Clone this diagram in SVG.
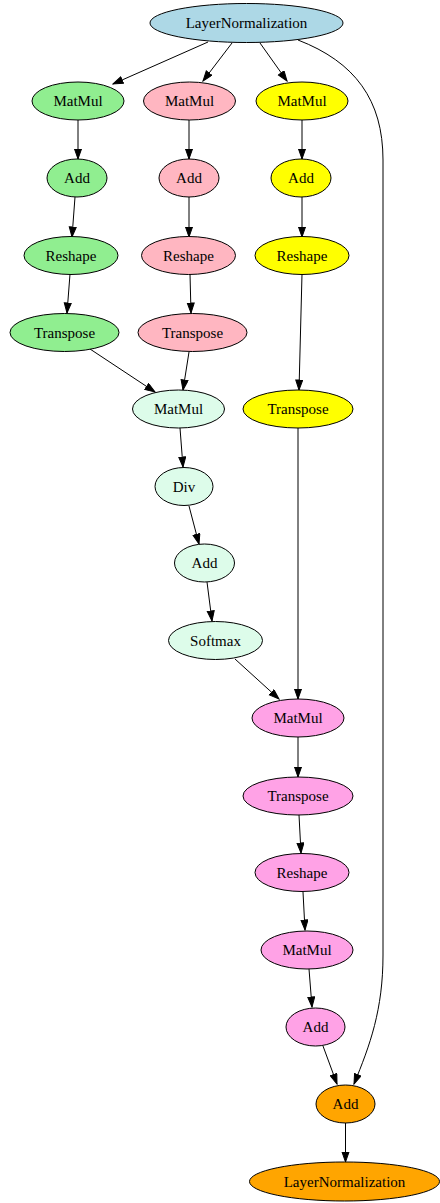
<svg xmlns="http://www.w3.org/2000/svg" width="440" height="1203" viewBox="0 0 440 1203">
<defs>
<marker id="ah" markerUnits="userSpaceOnUse" markerWidth="12" markerHeight="9" refX="10.5" refY="4" orient="auto" viewBox="0 0 12 9">
<path d="M0.5,0.5 L10.5,4 L0.5,7.5 z" fill="#000" stroke="#000" stroke-width="1"/>
</marker>
</defs>
<style>
ellipse{stroke:#000;stroke-width:1}
text{font-family:"Liberation Serif","Times New Roman",serif;font-size:15px;text-anchor:middle;fill:#000}
.e{fill:none;stroke:#000;stroke-width:1;marker-end:url(#ah)}
.ln{fill:#add8e6}.g{fill:#90ee90}.p{fill:#ffb6c1}.y{fill:#ffff00}.c{fill:#ddfcea}.m{fill:#ffa2e6}.o{fill:#ffa500}
</style>
<rect width="440" height="1203" fill="#fff"/>
<g id="edges">
<path class="e" d="M208,42 L113,84"/>
<path class="e" d="M232,43 L203,81"/>
<path class="e" d="M260,43 L287,81"/>
<path class="e" d="M298,40 C355,62 383,100 383,160 L383,955 C383,1010 370,1045 354,1084"/>
<path class="e" d="M78,120 L78,159"/>
<path class="e" d="M75,197 L72,237"/>
<path class="e" d="M70,274 L67,313"/>
<path class="e" d="M90,349 L155,392"/>
<path class="e" d="M189,120 L189,159"/>
<path class="e" d="M189,197 L189,237"/>
<path class="e" d="M190,274 L191,313"/>
<path class="e" d="M189,352 L183,390"/>
<path class="e" d="M302,120 L302,159"/>
<path class="e" d="M302,197 L302,237"/>
<path class="e" d="M302,274 L299,390"/>
<path class="e" d="M298,428 L298,699"/>
<path class="e" d="M180,428 L183,467"/>
<path class="e" d="M189,506 L199,544"/>
<path class="e" d="M207,582 L212,621"/>
<path class="e" d="M235,659 L279,699"/>
<path class="e" d="M298,737 L298,777"/>
<path class="e" d="M299,815 L301,853"/>
<path class="e" d="M303,892 L305,930"/>
<path class="e" d="M309,969 L312,1007"/>
<path class="e" d="M323,1046 L337,1084"/>
<path class="e" d="M345.5,1123 L345.5,1162"/>
</g>
<g id="n_ln1"><ellipse class="ln" cx="246.5" cy="23" rx="96.5" ry="19.5"/><text x="246.5" y="28">LayerNormalization</text></g>
<g id="n_mm_g"><ellipse class="g" cx="78" cy="101" rx="46" ry="19"/><text x="78" y="106">MatMul</text></g>
<g id="n_mm_p"><ellipse class="p" cx="189.5" cy="101" rx="46" ry="19"/><text x="189.5" y="106">MatMul</text></g>
<g id="n_mm_y"><ellipse class="y" cx="302" cy="101" rx="46" ry="19"/><text x="302" y="106">MatMul</text></g>
<g id="n_add_g"><ellipse class="g" cx="77" cy="178" rx="30" ry="19"/><text x="77" y="183">Add</text></g>
<g id="n_add_p"><ellipse class="p" cx="189" cy="178" rx="30" ry="19"/><text x="189" y="183">Add</text></g>
<g id="n_add_y"><ellipse class="y" cx="301" cy="178" rx="30" ry="19"/><text x="301" y="183">Add</text></g>
<g id="n_rs_g"><ellipse class="g" cx="71" cy="255.5" rx="47" ry="19"/><text x="71" y="260.5">Reshape</text></g>
<g id="n_rs_p"><ellipse class="p" cx="188.5" cy="255.5" rx="47" ry="19"/><text x="188.5" y="260.5">Reshape</text></g>
<g id="n_rs_y"><ellipse class="y" cx="302" cy="255.5" rx="47" ry="19"/><text x="302" y="260.5">Reshape</text></g>
<g id="n_tr_g"><ellipse class="g" cx="64.5" cy="332.5" rx="54.5" ry="19"/><text x="64.5" y="337.5">Transpose</text></g>
<g id="n_tr_p"><ellipse class="p" cx="192.5" cy="332.5" rx="54.5" ry="19"/><text x="192.5" y="337.5">Transpose</text></g>
<g id="n_mm_c"><ellipse class="c" cx="178.5" cy="409" rx="46" ry="19"/><text x="178.5" y="414">MatMul</text></g>
<g id="n_tr_y"><ellipse class="y" cx="298" cy="409" rx="55" ry="19"/><text x="298" y="414">Transpose</text></g>
<g id="n_div"><ellipse class="c" cx="184" cy="486.5" rx="29" ry="19"/><text x="184" y="491.5">Div</text></g>
<g id="n_add_c"><ellipse class="c" cx="204.5" cy="563" rx="30" ry="19"/><text x="204.5" y="568">Add</text></g>
<g id="n_softmax"><ellipse class="c" cx="215.5" cy="640.5" rx="47" ry="19"/><text x="215.5" y="645.5">Softmax</text></g>
<g id="n_mm_m1"><ellipse class="m" cx="298" cy="718" rx="46" ry="19"/><text x="298" y="723">MatMul</text></g>
<g id="n_tr_m"><ellipse class="m" cx="298" cy="796" rx="55" ry="19"/><text x="298" y="801">Transpose</text></g>
<g id="n_rs_m"><ellipse class="m" cx="302" cy="872.5" rx="47" ry="19"/><text x="302" y="877.5">Reshape</text></g>
<g id="n_mm_m2"><ellipse class="m" cx="307" cy="950" rx="46" ry="19"/><text x="307" y="955">MatMul</text></g>
<g id="n_add_m"><ellipse class="m" cx="315.5" cy="1027" rx="29.5" ry="19"/><text x="315.5" y="1032">Add</text></g>
<g id="n_add_o"><ellipse class="o" cx="345.5" cy="1104" rx="29.5" ry="19"/><text x="345.5" y="1109">Add</text></g>
<g id="n_ln2"><ellipse class="o" cx="344.5" cy="1181.5" rx="95" ry="19.5"/><text x="344.5" y="1186.5">LayerNormalization</text></g>
</svg>
